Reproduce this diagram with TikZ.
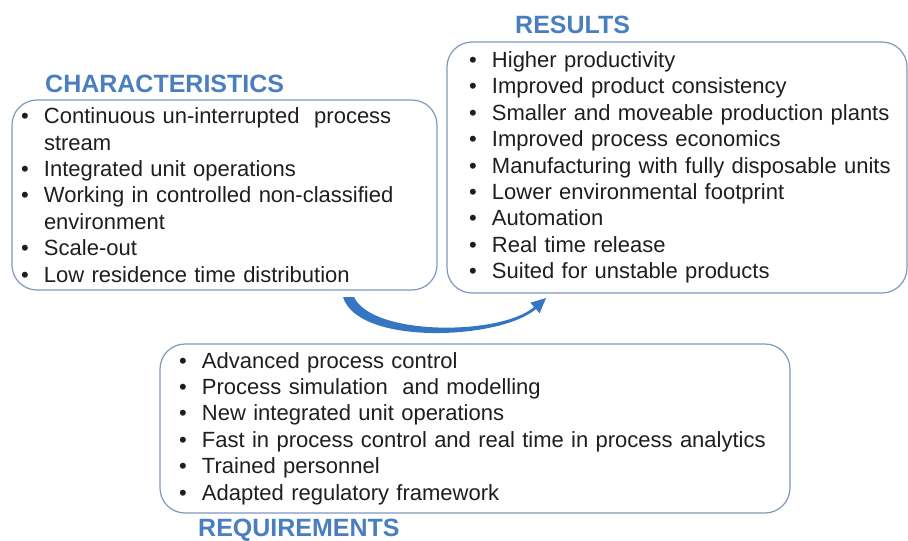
\documentclass[tikz,border=0pt]{standalone}
\usepackage{fontspec}
\setmainfont{Liberation Sans}
\usetikzlibrary{positioning}

\definecolor{boxline}{HTML}{7F98BE}
\definecolor{headblue}{HTML}{4A7FBF}
\definecolor{ink}{HTML}{1E1E1E}
\definecolor{arrowblue}{HTML}{3576C2}
\definecolor{arrownavy}{HTML}{1E3558}

\newcommand{\itm}[1]{\makebox[23pt][l]{\textbullet}\mbox{#1}}
\newcommand{\cnt}[1]{\hspace*{23pt}\mbox{#1}}

\begin{document}
\begin{tikzpicture}[x=1pt,y=-1pt,
    listbox/.style={draw=boxline,line width=1.2pt,rounded corners=25pt,
      anchor=north west,align=left,outer sep=0pt,inner ysep=0pt,text=ink,
      font=\fontsize{22}{26.4}\selectfont},
    heading/.style={inner sep=0pt,text=headblue,
      font=\bfseries\fontsize{25}{30}\selectfont}]
  \useasboundingbox (0,0) rectangle (908,541);
  \node[listbox,inner xsep=9pt,text width=407pt,minimum height=190pt] (char) at (12,100)
    {\itm{Continuous un-interrupted\ \ process}\\
     \cnt{stream}\\
     \itm{Integrated unit operations}\\
     \itm{Working in controlled non-classified}\\
     \cnt{environment}\\
     \itm{Scale-out}\\
     \itm{Low residence time distribution}};
  \node[listbox,inner xsep=22pt,text width=416pt,minimum height=251pt] (res) at (447,42)
    {\itm{Higher productivity}\\
     \itm{Improved product consistency}\\
     \itm{Smaller and moveable production plants}\\
     \itm{Improved process economics}\\
     \itm{Manufacturing with fully disposable units}\\
     \itm{Lower environmental footprint}\\
     \itm{Automation}\\
     \itm{Real time release}\\
     \itm{Suited for unstable products}};
  \node[listbox,inner xsep=19pt,text width=592pt,minimum height=169pt] (req) at (160,344)
    {\itm{Advanced process control}\\
     \itm{Process simulation\ \ and modelling}\\
     \itm{New integrated unit operations}\\
     \itm{Fast in process control and real time in process analytics}\\
     \itm{Trained personnel}\\
     \itm{Adapted regulatory framework}};
  % headings
  \node[heading] (charhead) [above right=7pt and 33pt of char.north west] {CHARACTERISTICS};
  \node[heading] (reshead)  [above right=8pt and 68pt of res.north west]  {RESULTS};
  \node[heading] (reqhead)  [below right=6pt and 38pt of req.south west]  {REQUIREMENTS};
  % curved arrow
  \coordinate (tail) at (348,297);
  \coordinate (tip)  at (546,298);
  \shade[left color=arrowblue,middle color=arrownavy,right color=arrowblue]
    ([xshift=-5pt]tail) .. controls (358,346) and (500,340) .. (536,309)
    -- (539.6,313.3) -- (tip) -- (530.4,302.7) -- (534,307)
    .. controls (500,336) and (372,336) .. ([xshift=6pt]tail) -- cycle;
\end{tikzpicture}
\end{document}
